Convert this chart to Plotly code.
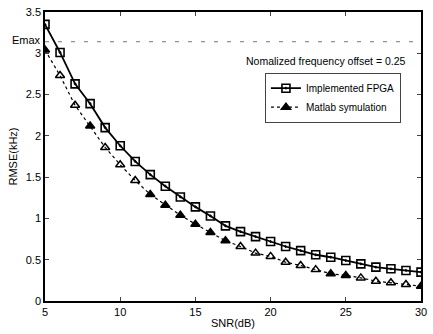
import plotly.graph_objects as go

snr = list(range(5, 31))
fpga = [3.35, 3.01, 2.63, 2.39, 2.10, 1.88, 1.69, 1.53, 1.39, 1.26, 1.14, 1.03, 0.91, 0.84,
        0.78, 0.72, 0.66, 0.61, 0.56, 0.53, 0.49, 0.45, 0.41, 0.39, 0.37, 0.35]
matlab = [3.04, 2.73, 2.37, 2.12, 1.86, 1.65, 1.46, 1.29, 1.16, 1.04, 0.93, 0.83, 0.73, 0.66,
          0.58, 0.54, 0.47, 0.43, 0.38, 0.33, 0.31, 0.28, 0.24, 0.22, 0.20, 0.18]
emax = 3.14
x_ticks = [5, 10, 15, 20, 25, 30]
y_ticks = [0, 0.5, 1, 1.5, 2, 2.5, 3, 3.5]
y_tick_labels = ["0", "0.5", "1", "1.5", "2", "2.5", "3", "3.5"]
filled_tri = [5, 8, 12, 13, 14, 15, 16, 17, 24, 25, 30]

tri_symbols = ["triangle-up" if s in filled_tri else "triangle-up-open" for s in snr]

FONT = "Liberation Sans, Arial, sans-serif"
fig = go.Figure()
fig.add_trace(go.Scatter(x=[snr[0], snr[-1]], y=[emax, emax], mode="lines",
                         line=dict(color="#777", width=1, dash="4px,9px"),
                         showlegend=False, hoverinfo="skip"))
fig.add_trace(go.Scatter(x=snr, y=matlab, mode="lines+markers", name="Matlab symulation",
                         line=dict(color="black", width=1.2, dash="dot"),
                         marker=dict(symbol=tri_symbols, size=8, color="black",
                                     line=dict(color="black", width=1.5))))
fig.add_trace(go.Scatter(x=snr, y=fpga, mode="lines+markers", name="Implemented FPGA",
                         line=dict(color="black", width=1.8),
                         marker=dict(symbol="square-open-dot", size=8, color="black",
                                     line=dict(color="black", width=1.6))))

fig.update_layout(
    width=433, height=334,
    margin=dict(l=45, r=6, t=12, b=31),
    paper_bgcolor="white", plot_bgcolor="white",
    font=dict(family=FONT, size=11, color="black"),
    showlegend=True,
    legend=dict(x=0.585, y=0.79, xanchor="left", yanchor="top",
                bgcolor="white", bordercolor="#444", borderwidth=1,
                traceorder="reversed", font=dict(size=10),
                itemwidth=30, tracegroupgap=0),
    xaxis=dict(range=[5, 30], tickvals=x_ticks, ticks="inside", ticklen=4,
               showgrid=False, zeroline=False, showline=True, linecolor="black",
               linewidth=1.5, mirror="ticks",
               title=dict(text="SNR(dB)", standoff=2, font=dict(size=11))),
    yaxis=dict(range=[0, 3.5], tickvals=y_ticks, ticktext=y_tick_labels, ticks="inside",
               ticklen=4, showgrid=False, zeroline=False, showline=True, linecolor="black",
               linewidth=1.5, mirror="ticks",
               title=dict(text="RMSE(kHz)", standoff=6, font=dict(size=11))),
    annotations=[
        dict(x=0, y=emax, xref="paper", yref="y", text="Emax", showarrow=False,
             xanchor="right", yanchor="bottom", xshift=-2, yshift=-6, font=dict(size=11)),
        dict(x=0.965, y=0.83, xref="paper", yref="paper",
             text="Nomalized frequency offset = 0.25", showarrow=False,
             xanchor="right", yanchor="middle", font=dict(size=10.5)),
    ],
)
fig.write_html("out.html")
